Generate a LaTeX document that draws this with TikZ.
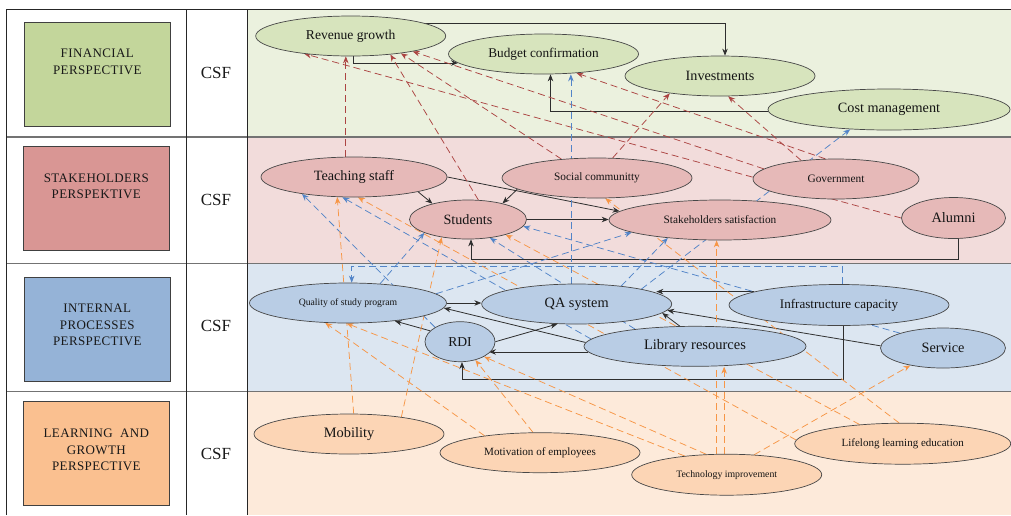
\documentclass[tikz,border=0pt]{standalone}
\usepackage{fontspec}
\setmainfont{Liberation Serif}
\newfontfamily\capsfont[LetterSpace=3]{Liberation Serif}
\usetikzlibrary{shapes.geometric,arrows.meta}

\pgfdeclarelayer{bands}
\pgfdeclarelayer{links}
\pgfsetlayers{bands,links,main}

% lane fills
\definecolor{finband}{RGB}{235,241,222}
\definecolor{stkband}{RGB}{242,220,219}
\definecolor{intband}{RGB}{220,230,241}
\definecolor{lrnband}{RGB}{253,234,218}
% goal fills
\definecolor{finnode}{RGB}{215,228,189}
\definecolor{stknode}{RGB}{230,185,184}
\definecolor{intnode}{RGB}{185,205,229}
\definecolor{lrnnode}{RGB}{252,213,181}
% perspective panels
\definecolor{finpanel}{RGB}{195,214,155}
\definecolor{stkpanel}{RGB}{217,150,148}
\definecolor{intpanel}{RGB}{149,179,215}
\definecolor{lrnpanel}{RGB}{250,192,144}
% link colours
\definecolor{brownln}{RGB}{172,68,66}
\definecolor{blueln}{RGB}{82,132,200}
\definecolor{orangeln}{RGB}{247,150,70}

\newcommand\fsize[1]{\fontsize{#1}{#1}\selectfont}

\begin{document}
\begin{tikzpicture}[x=1pt,y=-1pt,
  frame/.style={draw=black!85,line width=0.9pt},
  lanesep/.style={draw=black!55,line width=1.6pt},
  pbox/.style={draw=black!75,line width=0.6pt,minimum width=146.5pt,minimum height=104.5pt,inner sep=0pt},
  ptext/.style={font=\capsfont\fontsize{13}{16.5}\selectfont,align=center,inner sep=0pt,text=black!90},
  csf/.style={font=\fsize{17},inner sep=0pt,text=black!90},
  goal/.style 2 args={ellipse,draw=black!72,line width=0.7pt,inner sep=0pt,
    minimum width=#1pt,minimum height=#2pt,text=black!92},
  fin/.style={fill=finnode},
  stk/.style={fill=stknode},
  int/.style={fill=intnode},
  lrn/.style={fill=lrnnode},
  solidlink/.style={draw=black!82,line width=0.8pt,-{Stealth[length=7pt,width=5.5pt]}},
  brownlink/.style={draw=brownln,line width=0.75pt,dash pattern=on 7pt off 4pt,-{Stealth[length=7pt,width=5.5pt]}},
  bluelink/.style={draw=blueln,line width=0.75pt,dash pattern=on 7pt off 4pt,-{Stealth[length=7pt,width=5.5pt]}},
  orangelink/.style={draw=orangeln,line width=0.75pt,dash pattern=on 7pt off 4pt,-{Stealth[length=7pt,width=5.5pt]}}
]
\useasboundingbox (0,0) rectangle (1011,515);

% ---------- lanes and table grid ----------
\begin{pgfonlayer}{bands}
  \fill[white] (0,0) rectangle (1011,515);
  \fill[finband] (247.3,9.3) rectangle (1011,136.7);
  \fill[stkband] (247.3,136.7) rectangle (1011,263.5);
  \fill[intband] (247.3,263.5) rectangle (1011,391.5);
  \fill[lrnband] (247.3,391.5) rectangle (1011,515);
  \draw[lanesep] (6.7,136.7) -- (1011,136.7);
  \draw[lanesep] (6.7,263.5) -- (1011,263.5);
  \draw[lanesep] (6.7,391.5) -- (1011,391.5);
  \draw[frame] (6.7,515) -- (6.7,9.3) -- (1011,9.3);
  \draw[frame] (186,9.3) -- (186,515);
  \draw[frame] (247.3,9.3) -- (247.3,515);
\end{pgfonlayer}

% ---------- perspective column ----------
\node[pbox,fill=finpanel] (finbox) at (97.3,74.3) {};
\node[pbox,fill=stkpanel] (stkbox) at (96.3,198.3) {};
\node[pbox,fill=intpanel] (intbox) at (97.3,329.5) {};
\node[pbox,fill=lrnpanel] (lrnbox) at (96.3,453.5) {};
\node[ptext] (fintitle) at (97.3,62) {FINANCIAL\\PERSPECTIVE};
\node[ptext] (stktitle) at (96.3,186.2) {STAKEHOLDERS\\PERSPEKTIVE};
\node[ptext] (inttitle) at (97.3,325) {INTERNAL\\PROCESSES\\PERSPECTIVE};
\node[ptext] (lrntitle) at (96.3,450) {LEARNING\ \ AND\\GROWTH\\PERSPECTIVE};

\node[csf] (fincsf) at (216,72.7) {CSF};
\node[csf] (stkcsf) at (216,200) {CSF};
\node[csf] (intcsf) at (216,326) {CSF};
\node[csf] (lrncsf) at (216,454.3) {CSF};

% ---------- financial goals ----------
\node[goal={190}{40},fin,font=\fsize{13.6}] (rev)  at (350.7,36)  {Revenue growth};
\node[goal={190}{40},fin,font=\fsize{13.3}] (bud)  at (543.5,54)  {Budget confirmation};
\node[goal={190}{40},fin,font=\fsize{14.2}] (inv)  at (720,76)    {Investments};
\node[goal={242}{41},fin,font=\fsize{14.2}] (cost) at (889,109.5) {Cost management};

% ---------- stakeholder goals ----------
\node[goal={186}{40},stk,font=\fsize{14.2}] (teach) at (354,177)   {Teaching staff};
\node[goal={117}{39},stk,font=\fsize{14.2}] (stud)  at (468,219.5) {Students};
\node[goal={190}{40},stk,font=\fsize{11.3}] (soc)   at (597,178)   {Social communitty};
\node[goal={166}{40},stk,font=\fsize{11.4}] (gov)   at (836,179)   {Government};
\node[goal={222}{40},stk,font=\fsize{11.3}] (ss)    at (720,220)   {Stakeholders satisfaction};
\node[goal={104}{41},stk,font=\fsize{14.4}] (alum)  at (953.5,218) {Alumni};

% ---------- internal process goals ----------
\node[goal={197}{40},int,font=\fsize{9.7}]  (qual)  at (348,303)   {Quality of study program};
\node[goal={190}{40},int,font=\fsize{14.3}] (qa)    at (576.7,304) {QA system};
\node[goal={70}{40},int,font=\fsize{13.6}]  (rdi)   at (460,341.7) {RDI};
\node[goal={220}{41},int,font=\fsize{13.1}] (infra) at (839,305)   {Infrastructure capacity};
\node[goal={222}{40},int,font=\fsize{14.5}] (lib)   at (695,346.3) {Library resources};
\node[goal={125}{40},int,font=\fsize{14.3}] (serv)  at (943,348)   {Service};

% ---------- learning and growth goals ----------
\node[goal={190}{40},lrn,font=\fsize{14.4}] (mob)  at (349,434)     {Mobility};
\node[goal={200}{40},lrn,font=\fsize{11.1}] (mot)  at (540,452.7)   {Motivation of employees};
\node[goal={190}{41},lrn,font=\fsize{9.8}]  (tech) at (726.7,474.7) {Technology improvement};
\node[goal={216}{41},lrn,font=\fsize{11}]   (life) at (902.7,443.7) {Lifelong learning education};

% ---------- cause and effect links ----------
\begin{pgfonlayer}{links}
  % solid links
  \draw[solidlink] (rev.10.6) -| ([xshift=5pt]inv.north);
  \draw[solidlink] ([xshift=2.5pt]rev.south) |- (bud.186.9);
  \draw[solidlink] (cost.181.2) -| ([xshift=7pt]bud.south);
  \draw[solidlink] (teach.-13.3) -- (stud.156.2);
  \draw[solidlink] (soc.188.6) -- (stud.25);
  \draw[solidlink] (teach.east) -- (ss.175.2);
  \draw[solidlink] (stud.east) -- (stud.east -| ss.west);
  \draw[solidlink] ([xshift=5pt]alum.south) -- ++(0,20.5) -| ([xshift=3pt]stud.south);
  \draw[solidlink] (qual.east) -- (qual.east -| qa.west);
  \draw[solidlink] (infra.171.9) -- (infra.171.9 -| qa.8.6);
  \draw[solidlink] ([xshift=4pt]infra.south) -- ++(0,54) -| ([xshift=2pt]rdi.south);
  \draw[solidlink] (lib.183.85) -- (lib.183.85 -| rdi.-22.1);
  \draw[solidlink] (lib.178) -- (qual.-3.2);
  \draw[solidlink] (rdi.160) -- (qual.-21.6);
  \draw[solidlink] (rdi.east) -- (qa.226.4);
  \draw[solidlink] (lib.127.4) -- (qa.-6.6);
  \draw[solidlink] (serv.178) -- (qa.-4);

  % stakeholders -> financial
  \draw[brownlink] (teach.112.5) -- (teach.112.5 |- rev.south);
  \draw[brownlink] (alum.west) -- (rev.201.2);
  \draw[brownlink] (stud.62.9) -- (rev.-25);
  \draw[brownlink] (soc.152.3) -- (rev.-19);
  \draw[brownlink] (gov.172.1) -- (rev.-14);
  \draw[brownlink] (gov.118.8) -- (bud.-30);
  \draw[brownlink] (gov.152.2) -- (inv.-68.4);
  \draw[brownlink] (soc.52.4) -- (inv.199);

  % internal processes -> financial / stakeholders
  \draw[bluelink] (qa.106) -- (qa.106 |- bud.south);
  \draw[bluelink] (qa.13.8) -- (cost.207.7);
  \draw[bluelink] (rdi.150.8) -- (teach.198.4);
  \draw[bluelink] (lib.176.8) -- (teach.240.8);
  \draw[bluelink] (qual.31) -- (stud.197);
  \draw[bluelink] (lib.164.7) -- (stud.-40);
  \draw[bluelink] (serv.161.4) -- (stud.-7.9);
  \draw[bluelink] (qual.6.4) -- (ss.188.4);
  \draw[bluelink] (qa.22.6) -- (ss.199.5);
  \draw[bluelink] ([xshift=3.7pt]infra.north) -- ++(0,-17.7) -| ([xshift=3.7pt]qual.north);

  % learning and growth -> upper perspectives
  \draw[orangelink] (mob.77.7) -- (teach.230);
  \draw[orangelink] (life.178) -- (teach.281);
  \draw[orangelink] (mob.18.7) -- (stud.214);
  \draw[orangelink] (life.156) -- (stud.-22.7);
  \draw[orangelink] (life.100) -- (soc.-68);
  \draw[orangelink] (tech.116) -- (tech.116 |- ss.south);
  \draw[orangelink] (tech.97.5) -- (tech.97.5 |- lib.south);
  \draw[orangelink] (tech.36.8) -- (serv.208);
  \draw[orangelink] (mot.163.6) -- (qual.221.7);
  \draw[orangelink] (tech.156.5) -- (qual.266.6);
  \draw[orangelink] (tech.135.4) -- (rdi.-32);
  \draw[orangelink] (mot.109.3) -- (rdi.-50);
\end{pgfonlayer}
\end{tikzpicture}
\end{document}
